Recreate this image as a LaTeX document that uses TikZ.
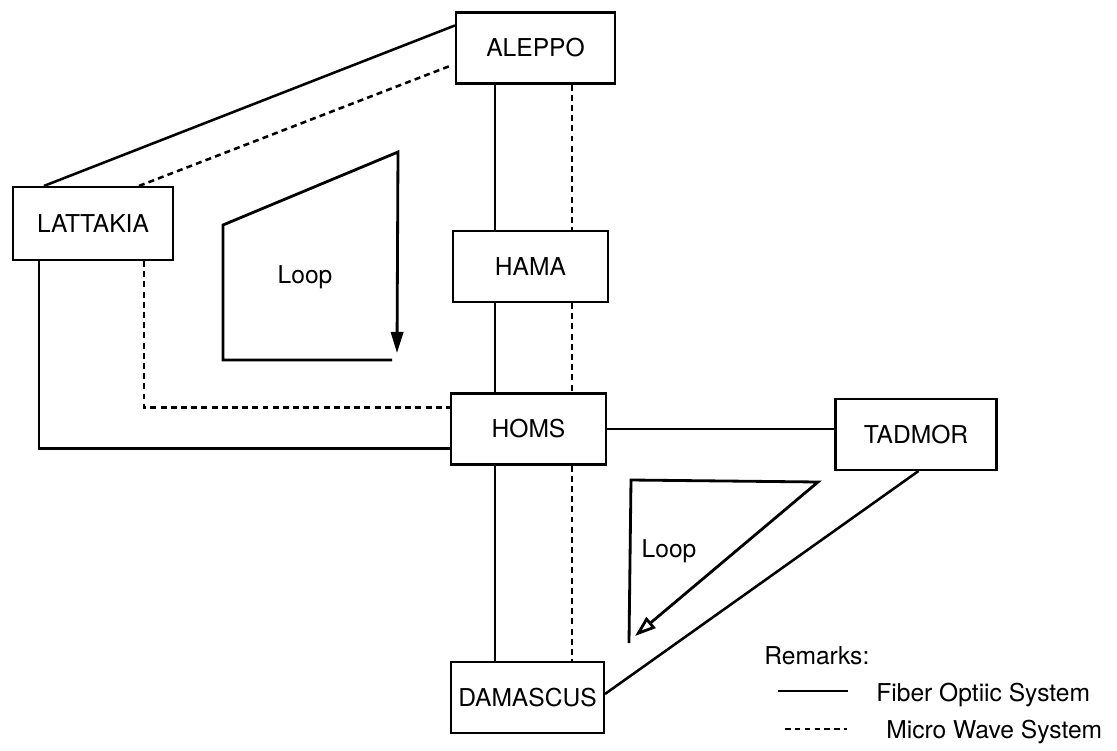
\documentclass[tikz,border=0pt]{standalone}
\usepackage{fontspec}
\setmainfont{TeX Gyre Heros}
\usetikzlibrary{arrows.meta,calc,positioning}

\begin{document}
\begin{tikzpicture}[
  x={(0.02cm,0cm)},
  y={(0cm,-0.02cm)},
  station/.style={
    draw,
    line width=1.2pt,
    minimum width=3.1cm,
    minimum height=1.42cm,
    inner sep=0pt,
    font=\fontsize{14}{16}\selectfont
  },
  fiber/.style={line width=1.45pt},
  micro/.style={line width=1.45pt,dash pattern=on 3.4pt off 2.4pt},
  looppath/.style={line width=1.6pt},
  plaintext/.style={inner sep=0pt,font=\fontsize{14}{16}\selectfont}
]

% Page
\fill[white] (0,0) rectangle (1117,751);
\useasboundingbox (0,0) rectangle (1117,751);

% Stations
\node[station,minimum width=3.18cm] (aleppo) at (535.5,48) {ALEPPO};
\node[station,minimum width=3.2cm,minimum height=1.46cm] (lattakia) at (93,223.5) {LATTAKIA};
\node[station] (hama) at (530.5,266.5) {HAMA};
\node[station] (homs) at (528.5,429) {HOMS};
\node[station,minimum width=3.22cm] (tadmor) at (916,434.5) {TADMOR};
\node[station,minimum width=3.06cm] (damascus) at (527.5,697.5) {DAMASCUS};

% Columns of the trunk
\coordinate (fcol) at (495,0);
\coordinate (mcol) at (572,0);

% North trunk
\draw[fiber] (aleppo.south -| fcol) -- (hama.north -| fcol);
\draw[micro] (aleppo.south -| mcol) -- (hama.north -| mcol);
\draw[fiber] (hama.south -| fcol) -- (homs.north -| fcol);
\draw[micro] (hama.south -| mcol) -- (homs.north -| mcol);

% South trunk
\draw[fiber] (homs.south -| fcol) -- (damascus.north -| fcol);
\draw[micro] (homs.south -| mcol) -- (damascus.north -| mcol);

% Coast links
\draw[fiber] ($(lattakia.north west)+(32,0)$) -- ($(aleppo.north west)+(0,14)$);
\draw[micro] ($(lattakia.north west)+(127,0)$) -- ($(aleppo.south west)+(-4,-19)$);
\draw[fiber] ($(lattakia.south west)+(27,0)$) |- ($(homs.south west)+(0,-17)$);
\draw[micro] ($(lattakia.south west)+(132,0)$) |- ($(homs.north west)+(0,15)$);

% Desert links
\draw[fiber] (homs.east) -- (homs.east -| tadmor.west);
\draw[fiber] ($(tadmor.south west)+(84,0)$) -- ($(damascus.north east)+(0,33)$);

% Loop in the north
\coordinate (la) at (392,360);
\coordinate (lb) at (223,360);
\coordinate (lc) at (223,225);
\coordinate (ld) at (398,152);
\coordinate (le) at (397,353);
\draw[looppath,-{Triangle[length=12pt,width=7pt]}] (la) -- (lb) -- (lc) -- (ld) -- (le);
\node[plaintext] (loopn) at (305,277) {Loop};

% Loop in the south
\coordinate (ma) at (629,643);
\coordinate (mb) at (631,480);
\coordinate (mc) at (818,482);
\coordinate (md) at (635,636);
\draw[looppath,-{Triangle[open,length=12pt,width=8pt]}] (ma) -- (mb) -- (mc) -- (md);
\node[plaintext] (loops) at (669,551) {Loop};

% Remarks
\node[plaintext,anchor=west] (remarks) at (764,656) {Remarks:};
\node[plaintext,anchor=west] (fibertxt) at (876,695) {Fiber Optiic System};
\node[plaintext,anchor=west] (microtxt) at (886,732) {Micro Wave System};
\coordinate (fa) at (778,691);
\coordinate (fb) at (848,691);
\coordinate (mwa) at (785,729);
\coordinate (mwb) at (847,729);
\draw[line width=1.1pt] (fa) -- (fb);
\draw[line width=1.1pt,dash pattern=on 3.2pt off 2.4pt] (mwa) -- (mwb);

\end{tikzpicture}
\end{document}
